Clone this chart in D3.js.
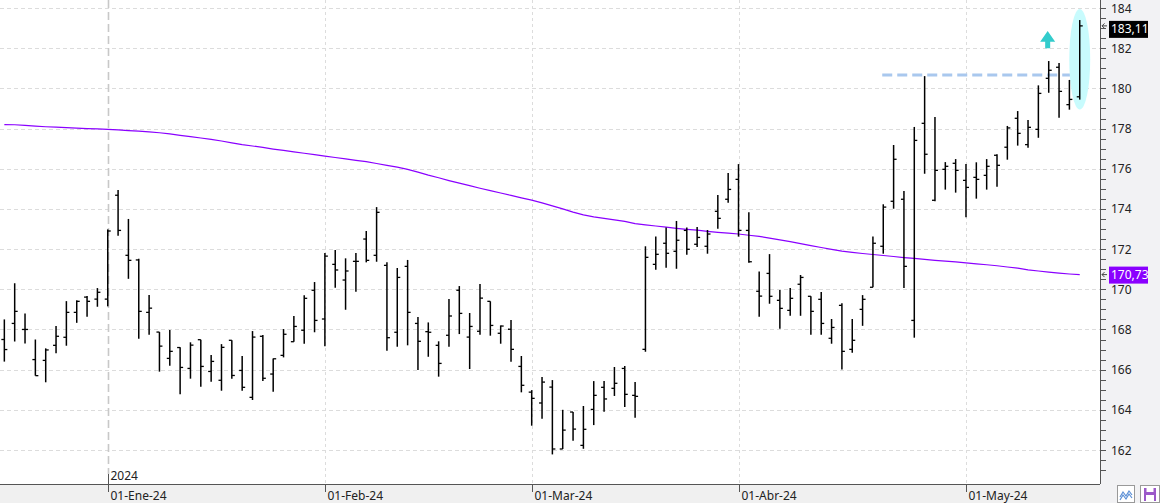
<!DOCTYPE html>
<html>
<head>
<meta charset="utf-8">
<script src="https://cdn.jsdelivr.net/npm/d3@7"></script>
<style>
  html, body { margin: 0; padding: 0; background: #fff; }
  svg { display: block; font-family: "Noto Sans", "DejaVu Sans", sans-serif; }
</style>
</head>
<body>
<div class="content"></div>
<script>
// daily bars, oldest first
var opens  = [167.5,168.3,168.0,166.5,166.46,167.21,167.61,168.85,169.61,169.51,
              169.51,174.68,171.69,171.46,168.85,167.87,166.56,167.1,166.06,167.49,
              165.91,165.47,167.46,165.96,164.62,167.66,165.78,166.71,167.39,167.96,
              169.95,168.52,171.24,170.46,171.39,172.5,171.69,171.19,167.86,171.14,
              168.3,167.89,167.21,167.71,169.95,167.62,167.91,169.4,167.81,168.01,
              166.16,164.88,164.34,165.13,162.05,163.89,162.23,164.02,165.12,165.07,
              166.06,164.72,167.01,171.24,172.29,171.89,172.93,172.24,172.14,173.88,
              174.48,175.47,172.93,169.9,170.79,169.45,168.95,170.25,169.65,169.5,
              167.56,169.2,167.01,169.0,170.1,172.14,174.38,174.48,168.45,178.26,
              174.43,175.97,176.27,175.42,175.57,175.67,176.67,177.07,178.51,177.2,
              177.96,180.5,181.05,179.19,179.58];
var highs  = [168.5,170.3,168.8,167.5,167.06,168.17,169.41,169.45,169.66,170.06,
              172.98,174.94,173.5,171.52,169.71,167.87,167.97,167.12,167.36,167.49,
              166.73,167.27,167.46,166.68,167.92,167.72,166.56,168.02,168.67,169.7,
              170.36,171.8,171.95,171.54,171.8,172.9,174.09,171.34,171.06,171.46,
              168.62,168.35,167.41,169.51,170.16,168.82,170.26,169.4,168.2,168.47,
              166.68,164.98,165.63,165.48,164.0,163.89,164.19,165.43,165.43,166.13,
              166.18,165.38,172.14,172.63,173.08,173.4,173.08,173.1,172.95,174.69,
              175.79,176.23,173.83,170.89,171.75,169.96,170.06,170.71,169.65,169.86,
              168.52,169.3,168.52,169.71,172.63,174.23,177.18,174.89,178.08,180.61,
              178.57,176.33,176.48,176.23,176.32,176.48,176.72,178.13,178.87,178.42,
              180.15,181.36,181.26,180.42,183.4];
var lows   = [166.4,167.4,167.3,165.7,165.37,166.81,167.19,168.33,168.63,169.13,
              169.15,172.67,170.52,167.54,167.74,165.9,166.19,164.77,165.55,165.15,
              165.4,164.95,165.55,164.95,164.49,165.43,164.9,166.61,167.39,167.29,
              167.86,167.17,170.08,168.98,169.88,171.34,171.37,166.94,167.14,167.21,
              165.98,166.64,165.65,167.14,167.77,166.03,167.74,167.69,167.29,166.39,
              164.87,163.21,163.55,161.78,162.05,162.46,162.06,163.24,163.9,164.69,
              164.14,163.6,166.89,170.97,171.07,171.02,171.72,172.1,171.77,173.01,
              174.31,172.62,171.32,168.63,169.28,168.04,168.68,168.68,167.74,167.74,
              167.29,166.01,166.84,168.18,170.1,171.77,174.01,170.06,167.59,175.75,
              174.38,174.96,174.81,173.58,174.51,174.96,175.1,176.45,177.15,177.05,
              177.54,179.78,178.54,178.94,179.44];
var closes = [167.0,168.9,168.0,165.7,166.98,167.66,168.85,169.4,169.4,169.85,
              172.9,172.93,171.44,168.9,169.06,167.17,166.91,166.11,167.22,166.16,
              166.41,167.11,165.71,165.12,167.62,165.57,166.54,167.76,168.15,169.55,
              168.45,171.65,170.96,170.91,171.39,171.44,173.83,167.59,170.59,168.85,
              167.41,167.86,166.31,168.67,168.8,168.15,169.56,168.2,168.17,167.01,
              165.22,164.57,165.38,162.05,162.99,163.04,163.03,164.72,164.54,165.32,
              164.77,164.67,171.59,171.74,171.79,172.44,171.99,172.58,172.75,173.53,
              174.97,172.93,171.37,169.66,169.65,169.05,169.55,170.59,168.9,168.3,
              168.1,166.91,167.46,169.5,172.29,174.09,176.47,171.14,177.41,176.72,
              175.92,176.12,175.92,175.07,175.47,176.12,176.17,178.03,177.76,178.06,
              179.75,180.9,179.85,179.45,183.11];
// moving average, one value per bar
var movingAvg = [178.20,178.19,178.16,178.12,178.09,178.07,178.05,178.02,178.00,177.98,
                 177.96,177.93,177.90,177.87,177.83,177.79,177.73,177.66,177.60,177.53,
                 177.46,177.38,177.29,177.20,177.13,177.06,176.98,176.91,176.84,176.77,
                 176.70,176.63,176.56,176.49,176.42,176.35,176.26,176.17,176.08,175.97,
                 175.83,175.68,175.55,175.41,175.28,175.16,175.03,174.91,174.79,174.67,
                 174.55,174.44,174.30,174.15,174.00,173.84,173.70,173.60,173.53,173.45,
                 173.38,173.27,173.21,173.15,173.09,173.03,172.98,172.94,172.88,172.83,
                 172.79,172.75,172.69,172.63,172.55,172.46,172.37,172.27,172.17,172.08,
                 171.99,171.90,171.84,171.78,171.73,171.68,171.63,171.58,171.54,171.49,
                 171.44,171.40,171.36,171.31,171.26,171.22,171.17,171.11,171.05,170.97,
                 170.91,170.85,170.80,170.76,170.73];

var monthTicks = [
    {bar: 10, label: '01-Ene-24', year: '2024'},
    {bar: 31, label: '01-Feb-24'},
    {bar: 51, label: '01-Mar-24'},
    {bar: 71, label: '01-Abr-24'},
    {bar: 93, label: '01-May-24'}
];
var yTicks = [162, 164, 166, 168, 170, 172, 174, 176, 178, 180, 182, 184];

// drawn annotations (bar index / price)
var resistance = {fromBar: 84.9, toBar: 104, price: 180.66};
var highlight = {bar: 104, top: 183.95, bottom: 178.95};
var upArrow = {bar: 100.9, top: 182.85, bottom: 182.0};

var chart = {
    width: 1160,
    height: 503,
    plotRight: 1100,
    plotBottom: 484,
    barColor: '#000',
    maColor: '#8a00ff',
    gridColor: '#dcdcdc',
    panelColor: '#f0f0f0',
    textColor: '#222'
};

chart.svg = d3.select('.content').append('svg')
    .attr('width', chart.width)
    .attr('height', chart.height);

chart.x = d3.scaleLinear().domain([-0.42, 105.96]).range([0, chart.plotRight]);
chart.y = d3.scaleLinear().domain([162, 184]).range([450, 8]);

// panels
chart.svg.append('rect').attr('x', 0).attr('y', 0)
    .attr('width', chart.plotRight).attr('height', chart.plotBottom).attr('fill', '#fff');
chart.svg.append('rect').attr('x', chart.plotRight).attr('y', 0)
    .attr('width', chart.width - chart.plotRight).attr('height', chart.height).attr('fill', '#f2f2f4');
chart.svg.append('rect').attr('x', 0).attr('y', chart.plotBottom)
    .attr('width', chart.plotRight).attr('height', chart.height - chart.plotBottom).attr('fill', chart.panelColor);

chart.plot = chart.svg.append('g');

// horizontal grid
chart.plot.selectAll('.hgrid').data(yTicks).enter().append('line')
    .attr('x1', 0).attr('x2', chart.plotRight)
    .attr('y1', function(d) { return Math.round(chart.y(d)) + 0.5; })
    .attr('y2', function(d) { return Math.round(chart.y(d)) + 0.5; })
    .attr('stroke', chart.gridColor).attr('stroke-dasharray', '4,3');

// month grid
chart.plot.selectAll('.vgrid').data(monthTicks).enter().append('line')
    .attr('x1', function(d) { return Math.round(chart.x(d.bar)) + 0.5; })
    .attr('x2', function(d) { return Math.round(chart.x(d.bar)) + 0.5; })
    .attr('y1', 0)
    .attr('y2', function(d) { return d.year ? 474 : chart.plotBottom; })
    .attr('stroke', function(d) { return d.year ? '#c8c8c8' : chart.gridColor; })
    .attr('stroke-width', function(d) { return d.year ? 1.6 : 1; })
    .attr('stroke-dasharray', function(d) { return d.year ? '8,4' : '3,3'; });

// resistance line
chart.plot.append('line')
    .attr('x1', chart.x(resistance.fromBar)).attr('x2', chart.x(resistance.toBar))
    .attr('y1', chart.y(resistance.price)).attr('y2', chart.y(resistance.price))
    .attr('stroke', '#a9c8ee').attr('stroke-width', 3).attr('stroke-dasharray', '10,5');

// highlight ellipse
chart.plot.append('ellipse')
    .attr('cx', chart.x(highlight.bar))
    .attr('cy', (chart.y(highlight.top) + chart.y(highlight.bottom)) / 2)
    .attr('rx', 10.5)
    .attr('ry', (chart.y(highlight.bottom) - chart.y(highlight.top)) / 2)
    .attr('fill', '#c8fbfd');

// up arrow
(function() {
    var ax = chart.x(upArrow.bar), t = chart.y(upArrow.top), b = chart.y(upArrow.bottom);
    var mid = t + (b - t) * 0.62;
    chart.plot.append('path')
        .attr('d', 'M' + ax + ',' + t + 'L' + (ax + 7.5) + ',' + mid + 'L' + (ax + 2.5) + ',' + mid +
            'L' + (ax + 2.5) + ',' + b + 'L' + (ax - 2.5) + ',' + b + 'L' + (ax - 2.5) + ',' + mid +
            'L' + (ax - 7.5) + ',' + mid + 'Z')
        .attr('fill', '#33cccc');
})();

// moving average
chart.maLine = d3.line()
    .x(function(d, i) { return chart.x(i); })
    .y(function(d) { return chart.y(d); });
chart.plot.append('path')
    .attr('d', chart.maLine(movingAvg))
    .attr('fill', 'none').attr('stroke', chart.maColor).attr('stroke-width', 1.2);

// OHLC bars
chart.bars = chart.plot.selectAll('.bar').data(closes).enter().append('g');
chart.bars.append('line')
    .attr('x1', function(d, i) { return chart.x(i); })
    .attr('x2', function(d, i) { return chart.x(i); })
    .attr('y1', function(d, i) { return chart.y(highs[i]); })
    .attr('y2', function(d, i) { return chart.y(lows[i]); })
    .attr('stroke', chart.barColor).attr('stroke-width', 1.5);
chart.bars.append('line')
    .attr('x1', function(d, i) { return chart.x(i) - 3; })
    .attr('x2', function(d, i) { return chart.x(i); })
    .attr('y1', function(d, i) { return chart.y(opens[i]); })
    .attr('y2', function(d, i) { return chart.y(opens[i]); })
    .attr('stroke', chart.barColor).attr('stroke-width', 1.3);
chart.bars.append('line')
    .attr('x1', function(d, i) { return chart.x(i); })
    .attr('x2', function(d, i) { return chart.x(i) + 3; })
    .attr('y1', function(d) { return chart.y(d); })
    .attr('y2', function(d) { return chart.y(d); })
    .attr('stroke', chart.barColor).attr('stroke-width', 1.3);

// bottom axis
chart.svg.append('line')
    .attr('x1', 0).attr('x2', chart.plotRight)
    .attr('y1', chart.plotBottom + 0.5).attr('y2', chart.plotBottom + 0.5)
    .attr('stroke', '#555');
chart.xAxis = chart.svg.selectAll('.mtick').data(monthTicks).enter().append('g')
    .attr('transform', function(d) { return 'translate(' + (Math.round(chart.x(d.bar)) + 0.5) + ',0)'; });
chart.xAxis.append('line')
    .attr('y1', chart.plotBottom).attr('y2', 492).attr('stroke', '#555');
chart.xAxis.append('text')
    .attr('x', 2).attr('y', 500)
    .attr('font-size', 12).attr('fill', chart.textColor)
    .text(function(d) { return d.label; });
chart.xAxis.filter(function(d) { return d.year; }).append('line')
    .attr('y1', 474).attr('y2', chart.plotBottom).attr('stroke', '#555');
chart.xAxis.filter(function(d) { return d.year; }).append('text')
    .attr('x', 2).attr('y', 480)
    .attr('font-size', 12).attr('fill', chart.textColor)
    .text(function(d) { return d.year; });

// right axis
chart.svg.append('line')
    .attr('x1', chart.plotRight + 0.5).attr('x2', chart.plotRight + 0.5)
    .attr('y1', 0).attr('y2', chart.plotBottom)
    .attr('stroke', '#555');
chart.minorTicks = d3.range(161, 184.5, 0.5);
chart.svg.selectAll('.ytick').data(chart.minorTicks).enter().append('line')
    .attr('x1', chart.plotRight).attr('x2', chart.plotRight + 6)
    .attr('y1', function(d) { return Math.round(chart.y(d)) + 0.5; })
    .attr('y2', function(d) { return Math.round(chart.y(d)) + 0.5; })
    .attr('stroke', '#555');
chart.svg.selectAll('.ylabel').data(yTicks).enter().append('text')
    .attr('x', 1111)
    .attr('y', function(d) { return chart.y(d) + 4.5; })
    .attr('font-size', 12).attr('fill', chart.textColor)
    .text(function(d) { return d; });

// last value tags
function valueTag(value, color, shift) {
    var yy = chart.y(value);
    var g = chart.svg.append('g');
    g.append('path')
        .attr('d', 'M' + (chart.plotRight + 2) + ',' + yy + 'H' + (chart.plotRight + 7) +
            'M' + (chart.plotRight + 4.5) + ',' + (yy - 2.5) + 'L' + (chart.plotRight + 2) + ',' + yy +
            'L' + (chart.plotRight + 4.5) + ',' + (yy + 2.5))
        .attr('fill', 'none').attr('stroke', '#444').attr('stroke-width', 1);
    g.append('rect')
        .attr('x', 1109).attr('y', yy - 8 + shift)
        .attr('width', 39).attr('height', 17)
        .attr('fill', color);
    g.append('text')
        .attr('x', 1111).attr('y', yy + 4.5 + shift)
        .attr('font-size', 12).attr('fill', '#fff')
        .text(d3.format('.2f')(value).replace('.', ','));
}
valueTag(closes[closes.length - 1], '#000', 3);
valueTag(movingAvg[movingAvg.length - 1], chart.maColor, 0);

// toolbar icons bottom right
chart.icons = chart.svg.append('g');
chart.icons.append('rect').attr('x', 1117.5).attr('y', 485.5).attr('width', 17).attr('height', 17)
    .attr('fill', '#fff').attr('stroke', '#999');
chart.icons.append('path')
    .attr('d', 'M1120,497L1123,492L1126,496L1129,491L1132,495M1120,500L1123,495L1126,499L1129,494L1132,498')
    .attr('fill', 'none').attr('stroke', '#5b8fd6').attr('stroke-width', 1.2);
chart.icons.append('rect').attr('x', 1140.5).attr('y', 485.5).attr('width', 19).attr('height', 17)
    .attr('fill', '#fff').attr('stroke', '#999');
chart.icons.append('rect').attr('x', 1144).attr('y', 488).attr('width', 12).attr('height', 13)
    .attr('fill', '#9b59c9');
chart.icons.append('rect').attr('x', 1146.5).attr('y', 488).attr('width', 7).attr('height', 4)
    .attr('fill', '#fff');
chart.icons.append('rect').attr('x', 1146).attr('y', 495).attr('width', 8).attr('height', 6)
    .attr('fill', '#fff');
</script>
</body>
</html>
